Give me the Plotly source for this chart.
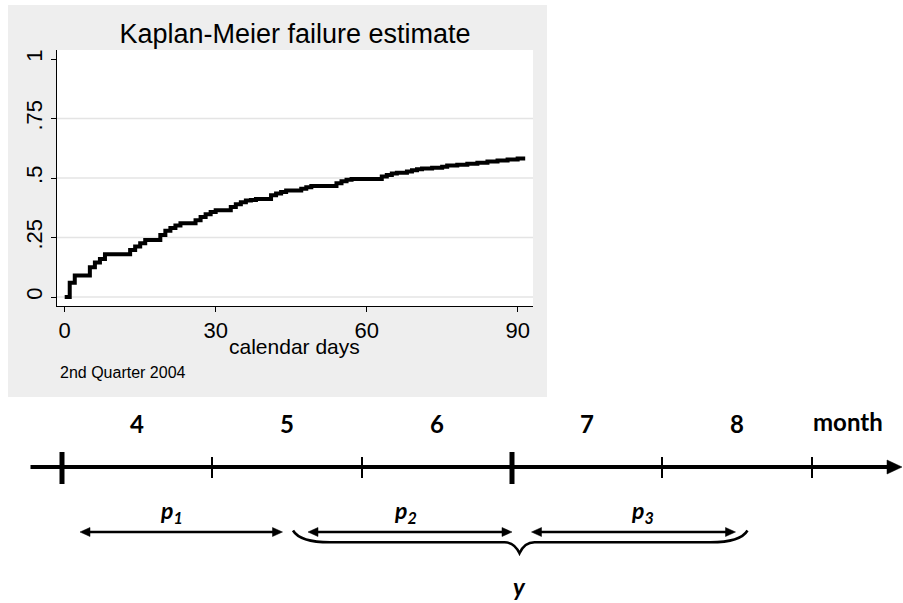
import plotly.graph_objects as go

# Kaplan-Meier failure estimate, 2nd quarter 2004 cohort
days = [0, 1, 2, 5, 6, 7, 8, 13, 14, 15, 16, 19, 20, 21, 22, 23, 26, 27, 28, 29,
        30, 33, 34, 35, 36, 37, 38, 41, 42, 43, 44, 47, 48, 49, 54, 55, 56, 57,
        63, 64, 65, 66, 68, 69, 70, 71, 73, 75, 76, 78, 80, 82, 84, 86, 88, 90, 91.5]
failure = [0, .06, .09, .125, .145, .16, .18, .197, .212, .226, .24, .26, .278, .29,
           .30, .31, .322, .336, .348, .357, .365, .378, .39, .398, .405, .408, .412,
           .427, .435, .441, .447, .455, .461, .466, .478, .486, .493, .496, .506,
           .513, .519, .522, .527, .533, .537, .540, .543, .547, .552, .556, .560,
           .564, .569, .574, .578, .582, .582]
x_ticks = [0, 30, 60, 90]
y_ticks = [0, 0.25, 0.5, 0.75, 1]
y_tick_text = ["0", ".25", ".5", ".75", "1"]
y_grid = [0, 0.25, 0.5, 0.75]

# Month timeline (month units)
months = [4, 5, 6, 7, 8]
month_bounds = [3.5, 4.5, 5.5, 6.5, 7.5, 8.5]
quarter_bounds = [3.5, 6.5]
timeline_span = [3.29, 9.10]
p_names = ["p<sub>1</sub>", "p<sub>2</sub>", "p<sub>3</sub>"]
p_label_x = [4.23, 5.79, 7.37]
p_starts = [3.62, 5.14, 6.63]
p_ends = [4.97, 6.50, 7.99]
brace_span = [5.04, 6.55, 8.07]

W, H = 903, 603
PX_PER_MONTH = 150.0
M0 = 3.5 - 62 / PX_PER_MONTH

ARIAL = "Liberation Sans, Arial, sans-serif"
BOLD = "Lato, Open Sans, sans-serif"

fig = go.Figure()

fig.add_trace(go.Scatter(
    x=days, y=failure, mode="lines", line=dict(color="black", width=4, shape="hv"),
    xaxis="x", yaxis="y", hoverinfo="skip", showlegend=False))

# invisible helper trace to register the timeline axes
fig.add_trace(go.Scatter(x=[month_bounds[0]], y=[0], mode="markers",
                         marker=dict(opacity=0), xaxis="x2", yaxis="y2",
                         hoverinfo="skip", showlegend=False))


def mx(base, offset_px):
    """Shift a month position by a number of pixels."""
    return base + offset_px / PX_PER_MONTH


def arrow_head(tip, y, direction, length, half):
    """Filled triangular arrow head whose tip sits at (tip, y)."""
    base = mx(tip, -direction * length)
    return dict(type="path", xref="x2", yref="y2",
                path=f"M{tip},{y} L{base},{y - half} L{base},{y + half} Z",
                fillcolor="black", line=dict(color="black", width=0.5))


shapes = []
# gray graph region and white plot region
shapes.append(dict(type="rect", xref="paper", yref="paper",
                   x0=8 / W, x1=547 / W, y0=1 - 397 / H, y1=1 - 5 / H,
                   fillcolor="#eeeeee", line=dict(width=0), layer="below"))
shapes.append(dict(type="rect", xref="x domain", yref="y domain",
                   x0=0, x1=1, y0=0, y1=1,
                   fillcolor="white", line=dict(width=0), layer="below"))
for g in y_grid:
    shapes.append(dict(type="line", xref="x domain", yref="y", x0=0, x1=1,
                       y0=g, y1=g, line=dict(color="#e4e4e4", width=1.5),
                       layer="below"))

# timeline axis with arrow
Y_AXIS = 467
shapes.append(dict(type="line", xref="x2", yref="y2",
                   x0=timeline_span[0], x1=mx(timeline_span[1], -8),
                   y0=Y_AXIS, y1=Y_AXIS, line=dict(color="black", width=4)))
shapes.append(arrow_head(timeline_span[1], Y_AXIS, 1, 15, 7))

# timeline ticks
for b in month_bounds:
    thick = b in quarter_bounds
    shapes.append(dict(type="line", xref="x2", yref="y2", x0=b, x1=b,
                       y0=Y_AXIS - (15 if thick else 10),
                       y1=Y_AXIS + (17 if thick else 11),
                       line=dict(color="black", width=5 if thick else 2)))

# double-headed interval arrows
Y_ARROW = 532
for s, e in zip(p_starts, p_ends):
    shapes.append(dict(type="line", xref="x2", yref="y2",
                       x0=mx(s, 5), x1=mx(e, -5), y0=Y_ARROW, y1=Y_ARROW,
                       line=dict(color="black", width=2.5)))
    shapes.append(arrow_head(s, Y_ARROW, -1, 10, 4.5))
    shapes.append(arrow_head(e, Y_ARROW, 1, 10, 4.5))

# curly brace under p2 and p3
b0, bm, b1 = brace_span
yt, yh, yc = 530.5, 542.3, 553.3
path = (f"M{b0},{yt} Q{mx(b0, 7)},{yh} {mx(b0, 37)},{yh} "
        f"H{mx(bm, -15)} Q{mx(bm, -5)},{yh} {bm},{yc} "
        f"Q{mx(bm, 5)},{yh} {mx(bm, 15)},{yh} "
        f"H{mx(b1, -37)} Q{mx(b1, -7)},{yh} {b1},{yt}")
shapes.append(dict(type="path", xref="x2", yref="y2", path=path,
                   line=dict(color="black", width=2.5)))

annotations = []
# graph texts
annotations.append(dict(xref="paper", yref="paper", x=294 / W, y=1 - 346 / H,
                        text="calendar days", showarrow=False,
                        xanchor="center", yanchor="middle",
                        font=dict(family=ARIAL, size=21, color="black")))
annotations.append(dict(xref="paper", yref="paper", x=58 / W, y=1 - 372 / H,
                        text="2nd Quarter 2004", showarrow=False,
                        xanchor="left", yanchor="middle",
                        font=dict(family=ARIAL, size=16, color="black")))

# month labels
for m in months:
    annotations.append(dict(xref="x2", yref="y2", x=m, y=423, text=f"<b>{m}</b>",
                            showarrow=False, xanchor="center", yanchor="middle",
                            font=dict(family=BOLD, size=24, color="black")))
annotations.append(dict(xref="x2", yref="y2", x=8.74, y=421, text="<b>month</b>",
                        showarrow=False, xanchor="center", yanchor="middle",
                        font=dict(family=BOLD, size=24, color="black")))
# interval labels
for name, lx in zip(p_names, p_label_x):
    annotations.append(dict(xref="x2", yref="y2", x=lx, y=511,
                            text=f"<b><i>{name}</i></b>", showarrow=False,
                            xanchor="center", yanchor="middle",
                            font=dict(family=BOLD, size=23, color="black")))
annotations.append(dict(xref="x2", yref="y2", x=brace_span[1], y=586,
                        text="<b><i>y</i></b>", showarrow=False,
                        xanchor="center", yanchor="middle",
                        font=dict(family=BOLD, size=24, color="black")))

fig.update_layout(
    width=W, height=H, margin=dict(l=0, r=0, t=0, b=0),
    paper_bgcolor="white", plot_bgcolor="rgba(0,0,0,0)",
    showlegend=False, shapes=shapes, annotations=annotations,
    title=dict(text="Kaplan-Meier failure estimate", xref="paper", yref="paper",
               x=295 / W, xanchor="center", y=1 - 34 / H, yanchor="middle",
               font=dict(family=ARIAL, size=27, color="black")),
    xaxis=dict(domain=[57 / W, 533 / W], range=[-1.53, 93.05],
               tickvals=x_ticks, ticks="outside", ticklen=5, tickwidth=1,
               tickcolor="black", showline=True, linecolor="black", linewidth=1,
               showgrid=False, zeroline=False,
               tickfont=dict(family=ARIAL, size=22, color="black"),
               anchor="y"),
    yaxis=dict(domain=[1 - 306 / H, 1 - 50 / H], range=[-0.0378, 1.0378],
               tickvals=y_ticks, ticktext=y_tick_text, tickangle=-90,
               ticks="outside", ticklen=5, tickwidth=1, tickcolor="black",
               showline=True, linecolor="black", linewidth=1,
               showgrid=False, zeroline=False,
               tickfont=dict(family=ARIAL, size=22, color="black"),
               anchor="x"),
    xaxis2=dict(domain=[0, 1], range=[M0, M0 + W / PX_PER_MONTH], visible=False,
                anchor="y2"),
    yaxis2=dict(domain=[0, 1], range=[H, 0], visible=False, anchor="x2"),
)

fig.write_html("out.html")
